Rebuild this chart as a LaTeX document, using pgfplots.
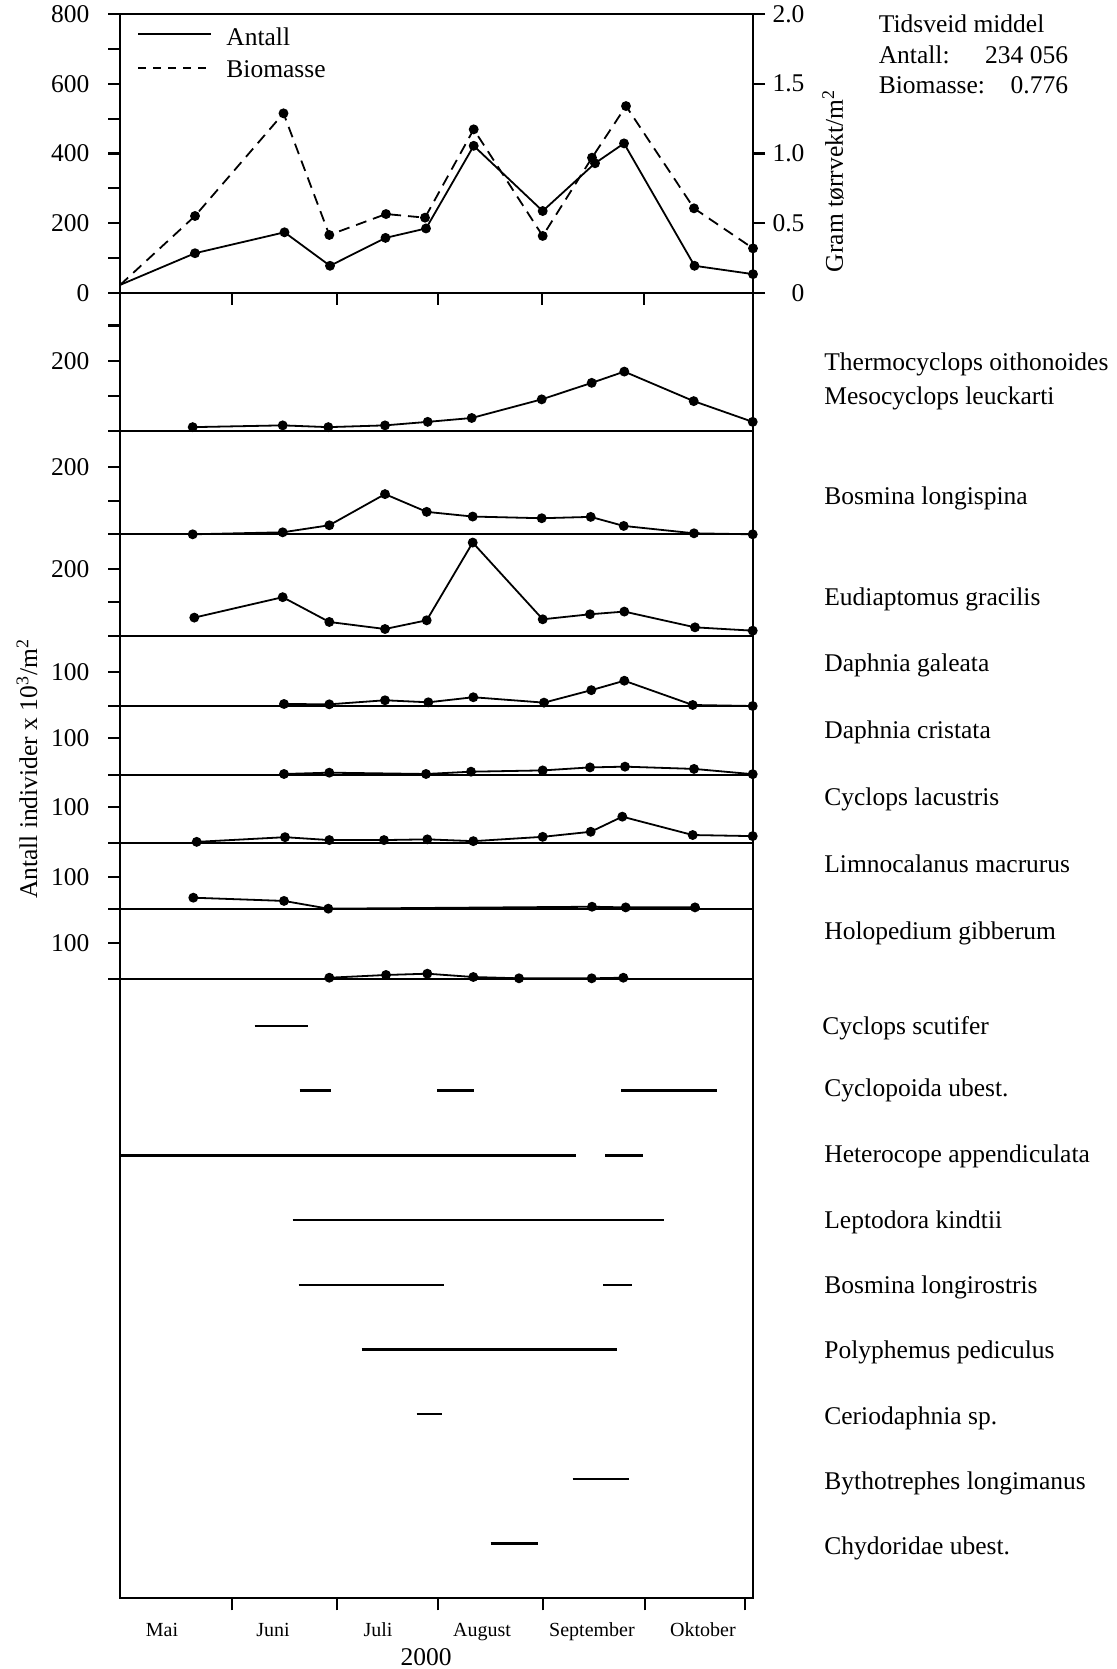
\documentclass[border=0pt]{standalone}
\usepackage{fontspec}
\setmainfont{Liberation Serif}
\usepackage{pgfplots}
\pgfplotsset{compat=1.18}
\newcommand{\fs}{\fontsize{12.75pt}{15pt}\selectfont}
\newcommand{\fm}{\fontsize{10pt}{12pt}\selectfont}
\pgfplotsset{
  panel/.style={
    scale only axis, width=316.5pt, xmin=120, xmax=753,
    anchor=north west,
    axis line style={line width=1.1pt},
    tick style={line width=1.1pt, black},
    tick align=outside, major tick length=6pt,
    xtick=\empty,
    clip=false,
    /pgf/number format/assume math mode=true,
    tick label style={font=\fs},
  },
  lefty/.style={ytick pos=left, xtick pos=left, yticklabel style={xshift=-5.75pt}},
  ser/.style={line width=0.9pt, black, mark=*, mark size=2pt, mark options={solid, fill=black}},
  pres/.style={line width=1.2pt, black},
}
\begin{document}
\begin{tikzpicture}[font=\fs]
\useasboundingbox (0,0) rectangle (558.5pt,-834.5pt);

% ---- top panel: Antall (left) ----
\begin{axis}[panel, lefty, at={(60pt,-7pt)}, height=139.5pt, ymin=0, ymax=800,
  ytick={0,100,...,800}, yticklabels={0,,200,,400,,600,,800},
  xtick={232,337,438,542,644}, xticklabels={}]
\addplot[ser, mark phase=2] coordinates {
 (120,23) (195,114) (284.5,174) (330,78) (385.5,158) (426,185)
 (473.7,422) (542.7,235) (595,372) (624,429) (694.5,78) (753,54)};
\end{axis}
% ---- top panel: Biomasse (right) ----
\begin{axis}[panel, at={(60pt,-7pt)}, height=139.5pt, ymin=0, ymax=2,
  axis y line*=right, axis x line=none,
  ytick pos=right, yticklabel pos=right,
  ytick={0,0.5,1,1.5,2}, yticklabels={0,0.5,1.0,1.5,2.0},
  yticklabel style={anchor=east, xshift=23.25pt}]
\addplot[ser, dash pattern=on 5.5pt off 3.5pt, mark phase=2] coordinates {
 (120,0.057) (195,0.552) (283.5,1.288) (329.3,0.416) (386,0.566) (425,0.54)
 (473.7,1.173) (542.7,0.409) (592,0.97) (626,1.34) (694,0.607) (753,0.32)};
\end{axis}

% ---- Thermocyclops / Mesocyclops ----
\begin{axis}[panel, lefty, at={(60pt,-146.5pt)}, height=69pt, ymin=0, ymax=392.6,
  ytick={0,100,200,300}, yticklabels={,,200,}]
\addplot[ser] coordinates {
 (192.7,11) (282.7,16) (328.3,11) (385,16) (427.7,26) (471.7,37)
 (541.7,90) (591.7,137) (624.3,169) (693.7,85) (752.7,26)};
\end{axis}
% ---- Bosmina longispina ----
\begin{axis}[panel, lefty, at={(60pt,-215.5pt)}, height=51.65pt, ymin=0, ymax=308.4,
  ytick={0,100,200}, yticklabels={,,200}]
\addplot[ser] coordinates {
 (192.7,0) (282.7,6) (329.3,27) (385,120) (426.7,67) (472.7,53)
 (541.7,48) (590.7,52) (623.7,25) (694,3) (752.7,0)};
\end{axis}
% ---- Eudiaptomus gracilis ----
\begin{axis}[panel, lefty, at={(60pt,-267.15pt)}, height=50.7pt, ymin=0, ymax=302.7,
  ytick={0,100,200}, yticklabels={,,200}]
\addplot[ser] coordinates {
 (194.3,54) (282.7,115) (329.3,41) (385,20) (426.7,46) (472.7,278)
 (542.7,49) (590,64) (624.3,72) (695,25) (752.7,15)};
\end{axis}
% ---- Daphnia galeata ----
\begin{axis}[panel, lefty, at={(60pt,-317.85pt)}, height=35.15pt, ymin=0, ymax=208.6,
  ytick={0,100}, yticklabels={,100}]
\addplot[ser] coordinates {
 (284,6) (329.3,5) (385,17) (428.3,11) (473.3,26)
 (544,10) (591.3,47) (624.3,75) (692.7,3) (752.7,0)};
\end{axis}
% ---- Daphnia cristata ----
\begin{axis}[panel, lefty, at={(60pt,-353pt)}, height=34.65pt, ymin=0, ymax=184.3,
  ytick={0,100}, yticklabels={,100}]
\addplot[ser] coordinates {
 (284,3.5) (329.3,7) (426,3.5) (471,9.6)
 (542.7,13) (590,21) (625,23) (694,17) (752.7,3)};
\end{axis}
% ---- Cyclops lacustris ----
\begin{axis}[panel, lefty, at={(60pt,-387.65pt)}, height=34pt, ymin=0, ymax=188.9,
  ytick={0,100}, yticklabels={,100}]
\addplot[ser] coordinates {
 (196.7,4) (285,17) (329.3,9) (384,9) (427.3,11) (473.3,6)
 (542.7,18) (590.7,32) (622.3,74) (692.7,23) (752.7,20)};
\end{axis}
% ---- Limnocalanus macrurus ----
\begin{axis}[panel, lefty, at={(60pt,-421.65pt)}, height=32.85pt, ymin=0, ymax=203.4,
  ytick={0,100}, yticklabels={,100}]
\addplot[ser] coordinates {
 (193.3,35) (284,25) (328.3,1) (592,7) (625.7,5) (695,5)};
\end{axis}
% ---- Holopedium gibberum ----
\begin{axis}[panel, lefty, at={(60pt,-454.5pt)}, height=35.15pt, ymin=0, ymax=195.3,
  ytick={0,100}, yticklabels={,100}]
\addplot[ser] coordinates {
 (329.3,4.4) (386,12) (427.3,15.6) (473.3,6.4) (519,2.8) (591.7,2.8) (623.3,4.4)};
\end{axis}
% ---- presence / absence (rows 1..9) ----
\begin{axis}[panel, xtick pos=left, at={(60pt,-489.65pt)}, height=309.5pt, ymin=0.278, ymax=9.849,
  y dir=reverse, ytick=\empty,
  xtick={232,337,438,543,645,745}, xticklabels={}]
\addplot[pres] coordinates {(254.5,1) (308,1)};
\addplot[pres] coordinates {(299.5,2) (331,2)};
\addplot[pres] coordinates {(437,2) (474,2)};
\addplot[pres] coordinates {(621,2) (717,2)};
\addplot[pres] coordinates {(120,3) (576,3)};
\addplot[pres] coordinates {(605,3) (643,3)};
\addplot[pres] coordinates {(292.5,4) (663.5,4)};
\addplot[pres] coordinates {(298.5,5) (444,5)};
\addplot[pres] coordinates {(603,5) (632,5)};
\addplot[pres] coordinates {(361.5,6) (617,6)};
\addplot[pres] coordinates {(416.5,7) (442,7)};
\addplot[pres] coordinates {(572.5,8) (628.5,8)};
\addplot[pres] coordinates {(490.5,9) (537.5,9)};
\end{axis}

% ---- legend ----
\draw[line width=0.9pt] (69pt,-17pt) -- (105.5pt,-17pt);
\draw[line width=0.9pt, dash pattern=on 4pt off 3.5pt] (69pt,-34pt) -- (105.5pt,-34pt);
\node[anchor=base west, inner sep=0] at (113pt,-22.9pt) {Antall};
\node[anchor=base west, inner sep=0] at (113pt,-38.7pt) {Biomasse};

% ---- info block ----
\node[anchor=base west, inner sep=0] at (439.2pt,-16.2pt) {Tidsveid middel};
\node[anchor=base west, inner sep=0] at (439.2pt,-32pt) {Antall:};
\node[anchor=base east, inner sep=0] at (534.2pt,-32pt) {234 056};
\node[anchor=base west, inner sep=0] at (439.2pt,-46.7pt) {Biomasse:};
\node[anchor=base east, inner sep=0] at (534.2pt,-46.7pt) {0.776};

% ---- axis titles ----
\node[rotate=90] at (416.5pt,-90.5pt) {Gram tørrvekt/m\textsuperscript{2}};
\node[rotate=90] at (13.5pt,-384.5pt) {Antall individer x 10\textsuperscript{3}/m\textsuperscript{2}};

% ---- species labels ----
\begin{scope}[every node/.style={anchor=base west, inner sep=0}]
\node at (412pt,-185pt) {Thermocyclops oithonoides};
\node at (412pt,-202pt) {Mesocyclops leuckarti};
\node at (412pt,-252pt) {Bosmina longispina};
\node at (412pt,-302.5pt) {Eudiaptomus gracilis};
\node at (412pt,-335.5pt) {Daphnia galeata};
\node at (412pt,-369pt) {Daphnia cristata};
\node at (412pt,-402.75pt) {Cyclops lacustris};
\node at (412pt,-436.3pt) {Limnocalanus macrurus};
\node at (412pt,-469.85pt) {Holopedium gibberum};
\node at (411pt,-517.25pt) {Cyclops scutifer};
\node at (412pt,-548pt) {Cyclopoida ubest.};
\node at (412pt,-581pt) {Heterocope appendiculata};
\node at (412pt,-614pt) {Leptodora kindtii};
\node at (412pt,-646.5pt) {Bosmina longirostris};
\node at (412pt,-679pt) {Polyphemus pediculus};
\node at (412pt,-712pt) {Ceriodaphnia sp.};
\node at (412pt,-744.5pt) {Bythotrephes longimanus};
\node at (412pt,-777pt) {Chydoridae ubest.};
\end{scope}

% ---- month labels ----
\begin{scope}[every node/.style={anchor=base, inner sep=0, font=\fm}]
\node at (81pt,-818pt) {Mai};
\node at (136.5pt,-818pt) {Juni};
\node at (189pt,-818pt) {Juli};
\node at (241pt,-818pt) {August};
\node at (296pt,-818pt) {September};
\node at (351.5pt,-818pt) {Oktober};
\end{scope}
\node[anchor=base, inner sep=0] at (213pt,-832.5pt) {2000};
\end{tikzpicture}
\end{document}
